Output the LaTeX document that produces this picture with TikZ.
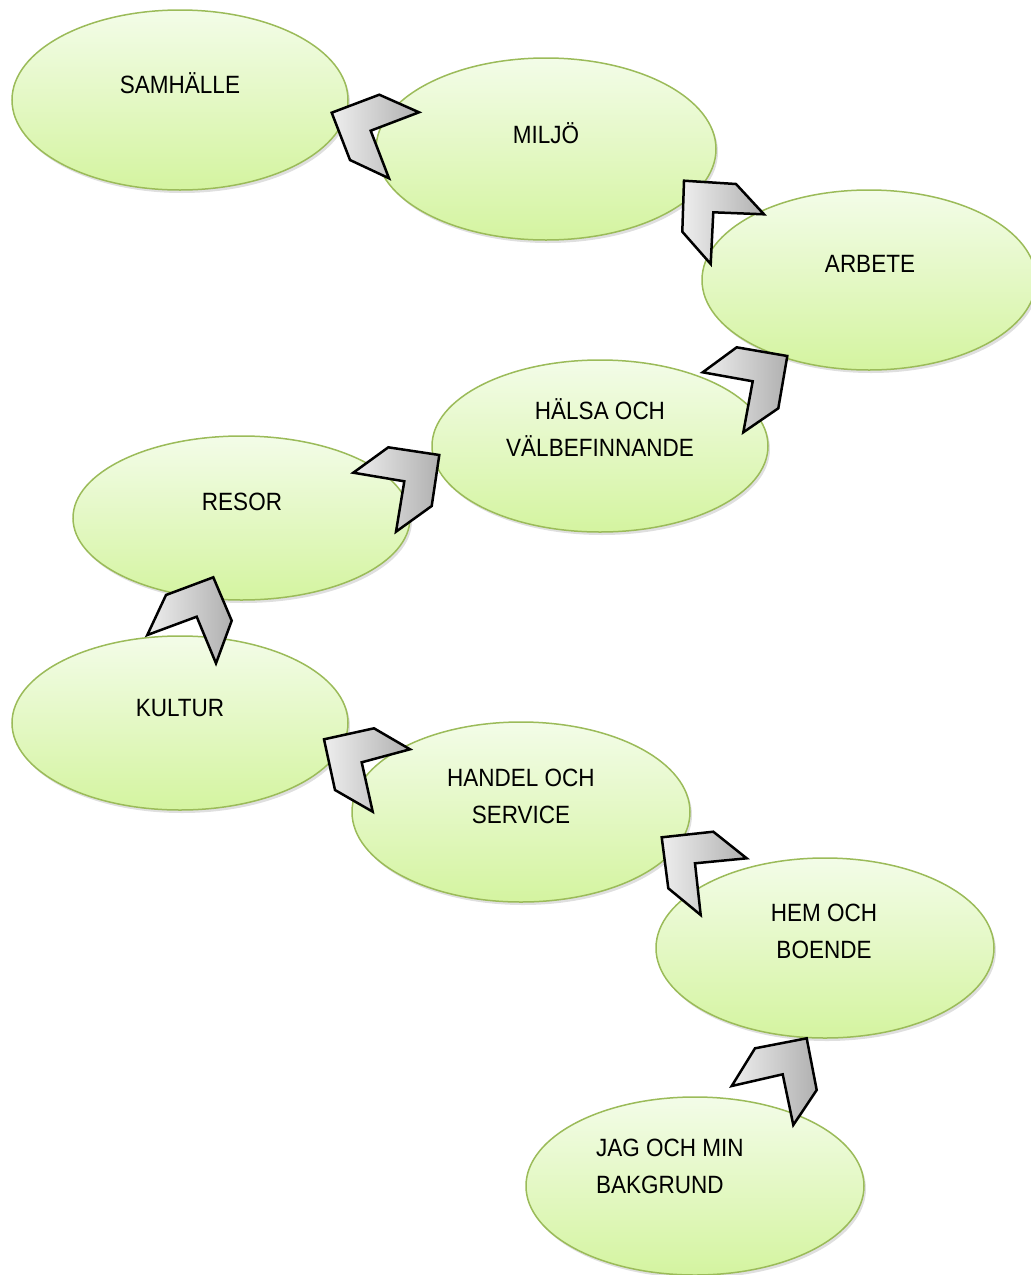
\documentclass[tikz,border=0pt]{standalone}
\usepackage{fontspec}
\setmainfont{Liberation Sans}[FakeStretch=0.9]
\usetikzlibrary{shapes.geometric,shadows}
\definecolor{elltop}{HTML}{F3FCE8}
\definecolor{ellbot}{HTML}{D4F4A0}
\definecolor{ellline}{HTML}{9BBB59}
\definecolor{chevA}{HTML}{EEEEEE}
\definecolor{chevB}{HTML}{B0B0B0}
\tikzset{
 topic/.style={ellipse, draw=ellline, line width=1.5pt, top color=elltop, bottom color=ellbot, inner sep=0pt,
   drop shadow={opacity=0.25, shadow xshift=2pt, shadow yshift=-3pt}},
 lbl/.style={font=\fontsize{25}{37}\selectfont, align=center, inner sep=0pt, text=black},
 chev/.style={draw=black, line width=2.5pt, line join=miter, left color=chevA, right color=chevB},
}
\begin{document}
\begin{tikzpicture}[x=1pt,y=-1pt]
\useasboundingbox (0,0) rectangle (1031,1275);
\clip (0,0) rectangle (1031,1275);
% ellipses
\node[topic, minimum width=336pt, minimum height=180pt] (e1) at (180,100) {};
\node[topic, minimum width=340pt, minimum height=182pt] (e2) at (546,149) {};
\node[topic, minimum width=334pt, minimum height=180pt] (e3) at (869,280) {};
\node[topic, minimum width=336pt, minimum height=172pt] (e4) at (600,446) {};
\node[topic, minimum width=337pt, minimum height=164pt] (e5) at (241.5,518) {};
\node[topic, minimum width=336pt, minimum height=174pt] (e6) at (180,723) {};
\node[topic, minimum width=338pt, minimum height=180pt] (e7) at (521,812) {};
\node[topic, minimum width=338pt, minimum height=180pt] (e8) at (825,948) {};
\node[topic, minimum width=338pt, minimum height=178pt] (e9) at (695,1186) {};
% labels
\node[lbl] (t1) at (180,83) {SAMHÄLLE};
\node[lbl] (t2) at (546,133) {MILJÖ};
\node[lbl] (t3) at (870,264) {ARBETE};
\node[lbl] (t4) at (600,427.5) {HÄLSA OCH\\VÄLBEFINNANDE};
\node[lbl] (t5) at (242,502) {RESOR};
\node[lbl] (t6) at (180,708) {KULTUR};
\node[lbl] (t7) at (521,796.5) {HANDEL OCH\\SERVICE};
\node[lbl] (t8) at (824,931.5) {HEM OCH\\BOENDE};
\node[lbl, align=left, anchor=west] (t9) at (596,1166.5) {JAG OCH MIN\\BAKGRUND};
% chevrons
\draw[chev] (331.7,112.7) -- (379.3,94.7) -- (419,112.3) -- (370.7,130.7) -- (389,178.3) -- (350,160) -- cycle;
\draw[chev] (684,180.7) -- (736,184) -- (764,214.3) -- (713.3,212.3) -- (710.7,264) -- (682.3,231.7) -- cycle;
\draw[chev] (702.7,372.3) -- (736.7,347.3) -- (787.3,356) -- (778.3,408.3) -- (743.3,432.3) -- (752.7,381.3) -- cycle;
\draw[chev] (353.3,472.7) -- (388.3,447.3) -- (439.3,455) -- (431.7,506) -- (396,531.7) -- (404.3,481.3) -- cycle;
\draw[chev] (147.3,635) -- (166,595) -- (213.3,577.3) -- (231.7,620.7) -- (216,663.3) -- (196.7,616.7) -- cycle;
\draw[chev] (324,739.3) -- (374,728.3) -- (410,749.3) -- (361.7,762.3) -- (372.7,811.7) -- (335,790) -- cycle;
\draw[chev] (661.7,837.3) -- (713.3,831.7) -- (746.7,858.3) -- (695,863.3) -- (700.7,915) -- (668.3,888.3) -- cycle;
\draw[chev] (731.7,1086) -- (755,1048.3) -- (806.7,1038.3) -- (816.7,1090) -- (793.3,1125) -- (782.7,1074.3) -- cycle;
\end{tikzpicture}
\end{document}
